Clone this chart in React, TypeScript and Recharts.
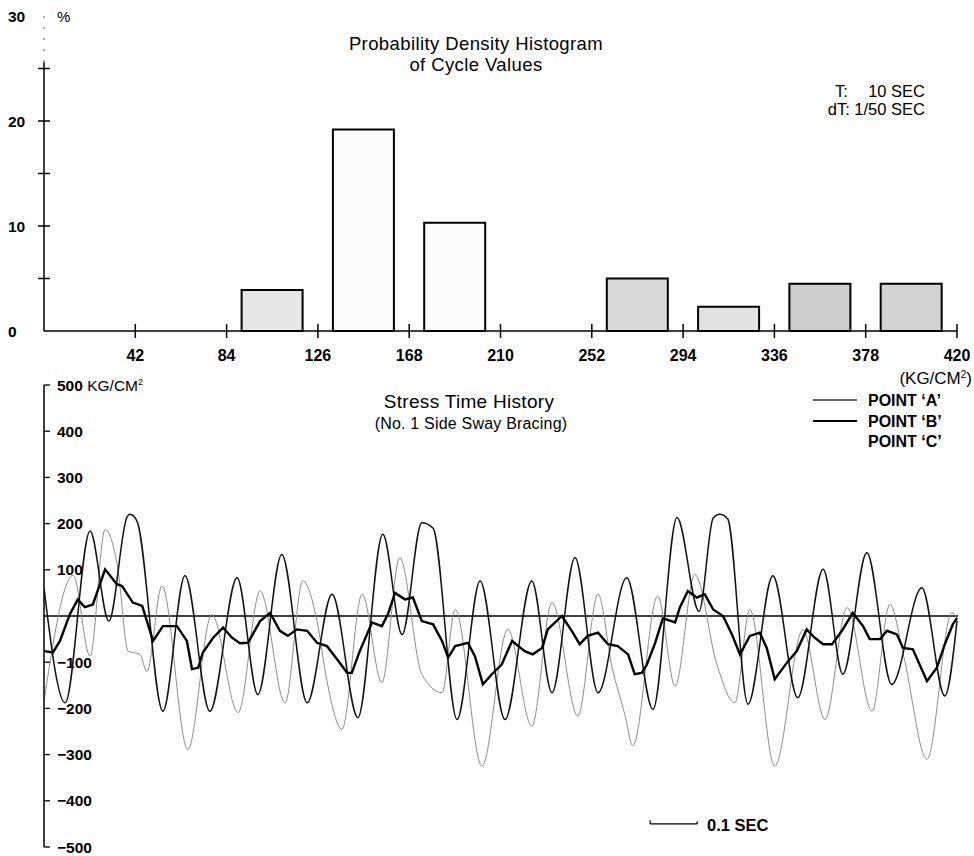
import React from 'react';
import {
  ComposedChart,
  Bar,
  Cell,
  XAxis,
  YAxis,
  ReferenceLine,
  LineChart,
  Line,
} from 'recharts';

const FONT = '"Liberation Sans", Arial, Helvetica, sans-serif';

// ---------- Histogram data ----------
const binCenters = [21, 63, 105, 147, 189, 231, 273, 315, 357, 399];
const cyclePercent = [null, null, 3.9, 19.2, 10.3, null, 5.0, 2.3, 4.5, 4.5];
const stressTicks = [42, 84, 126, 168, 210, 252, 294, 336, 378, 420];
const percentTicks = [0, 5, 10, 15, 20, 25, 30];
const binShades = ['#fff', '#fff', '#e6e6e6', '#fbfbfb', '#fcfcfc', '#fff', '#dadada', '#e2e2e2', '#cdcdcd', '#d2d2d2'];

// ---------- Stress time history (time in ms, stress in KG/CM2) ----------
const pointA: [number, number][] = [
  [0, -76], [19, -79], [34, -54], [55, 4], [72, 36], [87, 19], [104, 25], [130, 101], [155, 69], [166, 65],
  [189, 29], [209, 22], [232, -54], [253, -22], [283, -22], [304, -54], [315, -115], [328, -112], [338, -79],
  [360, -47], [381, -25], [400, -47], [417, -59], [434, -58], [460, -11], [481, 7], [502, -32], [519, -43],
  [538, -29], [560, -32], [581, -58], [602, -65], [626, -97], [645, -123], [655, -123], [672, -76], [698, -14],
  [719, -22], [732, 4], [747, 50], [768, 36], [785, 40], [804, -11], [828, -18], [847, -54], [860, -90],
  [875, -65], [902, -58], [917, -87], [934, -148], [953, -126], [974, -105], [996, -54], [1023, -76],
  [1040, -83], [1060, -69], [1072, -29], [1102, 0], [1123, -32], [1140, -61], [1157, -43], [1179, -36],
  [1200, -61], [1221, -65], [1243, -83], [1257, -126], [1272, -123], [1283, -105], [1300, -60], [1317, -5],
  [1332, -10], [1343, -14], [1353, 18], [1370, 54], [1389, 40], [1406, 47], [1424, 14], [1445, 0],
  [1464, -40], [1481, -83], [1502, -43], [1523, -36], [1538, -69], [1555, -137], [1581, -101], [1602, -76],
  [1623, -29], [1640, -47], [1658, -61], [1677, -61], [1698, -32], [1721, 7], [1743, -22], [1757, -50],
  [1779, -50], [1794, -32], [1815, -40], [1828, -69], [1849, -72], [1879, -141], [1900, -112], [1917, -61],
  [1934, -18], [1943, -4],
];

const pointB: [number, number][] = [
  [0, 60], [45, -188], [98, 184], [138, -11], [177, 215], [183, 220], [198, 205], [253, -206], [300, 87],
  [353, -206], [411, 83], [455, -170], [506, 133], [560, -188], [613, 47], [668, -220], [721, 177],
  [762, -40], [804, 202], [828, 190], [879, -224], [928, 76], [981, -224], [1038, 76], [1081, -166],
  [1130, 126], [1179, -166], [1240, 83], [1296, -202], [1347, 213], [1394, 10], [1424, 212], [1438, 220],
  [1455, 210], [1498, -191], [1551, 87], [1604, -177], [1658, 101], [1700, -126], [1751, 137], [1804, -148],
  [1868, 61], [1917, -173], [1943, -10],
];

const pointC: [number, number][] = [
  [0, -184], [62, 88], [98, -87], [130, 187], [157, 104], [179, -76], [204, -83], [219, -120], [251, 65],
  [306, -289], [357, 3], [413, -209], [460, 54], [513, -188], [551, 76], [581, -11], [602, -140], [634, -245],
  [677, 47], [719, -144], [757, 126], [804, -126], [847, -166], [875, 14], [932, -325], [987, -29],
  [1038, -238], [1081, 29], [1136, -216], [1179, 47], [1209, -112], [1236, -213], [1253, -281], [1306, 43],
  [1343, -152], [1385, 90], [1432, -105], [1470, -188], [1502, 14], [1555, -325], [1615, -30], [1662, -224],
  [1709, 18], [1762, -206], [1800, 25], [1830, -90], [1879, -310], [1932, 7], [1943, -5],
];

const stressAxisTicks = [-500, -400, -300, -200, -100, 100, 200, 300, 400, 500];
const timeScaleBar = { start: 1290, length: 100, level: -450 };

const histData = binCenters.map((c, i) => ({ c, pct: cyclePercent[i] }));
const toSeries = (arr: [number, number][]) => arr.map(([t, v]) => ({ t, v }));
const dataA = toSeries(pointA);
const dataB = toSeries(pointB);
const dataC = toSeries(pointC);

const HistXTick = (props: any) => {
  const { x, y, payload } = props;
  return (
    <g>
      <line x1={x} x2={x} y1={y - 7} y2={y + 7} stroke="#000" strokeWidth={1.5} />
      <text x={x} y={y + 29.5} textAnchor="middle" fontSize={16} fontWeight="bold" fontFamily={FONT} fill="#000">
        {payload.value}
      </text>
    </g>
  );
};

const HistYTick = (props: any) => {
  const { x, y, payload } = props;
  const v = payload.value;
  return (
    <g>
      {v !== 0 && v !== 30 && (
        <line x1={x - 6} x2={x + 6} y1={y} y2={y} stroke="#000" strokeWidth={1.5} />
      )}
      {v % 10 === 0 && (
        <text x={x - 36} y={y + 5.6} textAnchor="start" fontSize={15.5} fontWeight="bold" fontFamily={FONT} fill="#000">
          {v}
        </text>
      )}
    </g>
  );
};

const StressYTick = (props: any) => {
  const { x, y, payload } = props;
  const v = payload.value;
  const tx = x + 13;
  let label: React.ReactNode;
  if (v === 500) {
    label = (
      <text x={tx} y={y + 5.6} textAnchor="start" fontSize={15.5} fontFamily={FONT} fill="#000">
        <tspan fontWeight="bold">500</tspan>
        <tspan> KG/CM</tspan>
        <tspan fontSize={9} dy={-6}>2</tspan>
      </text>
    );
  } else {
    const s = v < 0 ? `\u2212${Math.abs(v)}` : `${v}`;
    label = (
      <text x={tx} y={y + 5.6} textAnchor="start" fontSize={15.5} fontWeight="bold" fontFamily={FONT} fill="#000">
        {s}
      </text>
    );
  }
  return (
    <g>
      <line x1={x} x2={x + 6} y1={y} y2={y} stroke="#000" strokeWidth={1.3} />
      {label}
    </g>
  );
};

export default function App() {
  return (
    <div
      style={{
        position: 'absolute',
        left: 0,
        top: 0,
        width: 974,
        height: 856,
        background: '#fff',
        fontFamily: FONT,
        overflow: 'hidden',
      }}
    >
      {/* Histogram */}
      <div style={{ position: 'absolute', left: 0, top: 0 }}>
        <ComposedChart width={974} height={372} data={histData} margin={{ top: 16, right: 17, bottom: 11, left: 0 }}>
          <XAxis
            dataKey="c"
            type="number"
            domain={[0, 420]}
            ticks={stressTicks}
            height={30}
            tickSize={0}
            tickMargin={0}
            tickLine={false}
            axisLine={{ stroke: '#000', strokeWidth: 1.5 }}
            tick={<HistXTick />}
            interval={0}
          />
          <YAxis
            type="number"
            domain={[0, 30]}
            ticks={percentTicks}
            width={44}
            tickSize={0}
            tickMargin={0}
            tickLine={false}
            axisLine={false}
            tick={<HistYTick />}
            interval={0}
          />
          <ReferenceLine segment={[{ x: 0, y: 0 }, { x: 0, y: 25.6 }]} stroke="#000" strokeWidth={1.5} />
          <ReferenceLine
            segment={[{ x: 0, y: 25.6 }, { x: 0, y: 30 }]}
            stroke="#555"
            strokeWidth={1}
            strokeDasharray="2 9"
          />
          <Bar dataKey="pct" barSize={61} stroke="#000" strokeWidth={2} isAnimationActive={false}>
            {histData.map((d, i) => (
              <Cell key={i} fill={binShades[i]} />
            ))}
          </Bar>
        </ComposedChart>
      </div>

      {/* Stress time history */}
      <div style={{ position: 'absolute', left: 0, top: 370 }}>
        <LineChart width={974} height={486} margin={{ top: 15, right: 16, bottom: 9, left: 0 }}>
          <XAxis dataKey="t" type="number" domain={[0, 1945]} hide allowDataOverflow />
          <YAxis
            type="number"
            domain={[-500, 500]}
            ticks={stressAxisTicks}
            width={44}
            tickSize={0}
            tickMargin={0}
            interval={0}
            axisLine={{ stroke: '#000', strokeWidth: 1.5 }}
            tickLine={false}
            tick={<StressYTick />}
          />
          <ReferenceLine y={0} stroke="#000" strokeWidth={1.6} />
          <ReferenceLine
            segment={[
              { x: timeScaleBar.start, y: timeScaleBar.level },
              { x: timeScaleBar.start + timeScaleBar.length, y: timeScaleBar.level },
            ]}
            stroke="#000"
            strokeWidth={1.2}
          />
          <ReferenceLine
            segment={[
              { x: timeScaleBar.start, y: timeScaleBar.level },
              { x: timeScaleBar.start, y: timeScaleBar.level + 8 },
            ]}
            stroke="#000"
            strokeWidth={1.2}
          />
          <ReferenceLine
            segment={[
              { x: timeScaleBar.start + timeScaleBar.length, y: timeScaleBar.level },
              { x: timeScaleBar.start + timeScaleBar.length, y: timeScaleBar.level + 6 },
            ]}
            stroke="#000"
            strokeWidth={1.2}
          />
          <Line data={dataC} dataKey="v" type="monotone" stroke="#8c8c8c" strokeWidth={1} dot={false} isAnimationActive={false} />
          <Line data={dataB} dataKey="v" type="monotone" stroke="#111" strokeWidth={1.5} dot={false} isAnimationActive={false} />
          <Line data={dataA} dataKey="v" type="linear" stroke="#000" strokeWidth={2.4} dot={false} isAnimationActive={false} />
        </LineChart>
      </div>

      {/* Text overlay */}
      <svg
        width={974}
        height={856}
        style={{ position: 'absolute', left: 0, top: 0, pointerEvents: 'none' }}
        fontFamily={FONT}
      >
        <text x={57} y={22} fontSize={15} fill="#000">%</text>
        <text x={476} y={50} fontSize={18.5} letterSpacing={0.4} textAnchor="middle" fill="#000">Probability Density Histogram</text>
        <text x={476} y={71} fontSize={18.5} letterSpacing={0.4} textAnchor="middle" fill="#000">of Cycle Values</text>
        <text x={835} y={97} fontSize={16.5} fill="#000">T:</text>
        <text x={925} y={97} fontSize={16.5} textAnchor="end" fill="#000">10 SEC</text>
        <text x={925} y={115} fontSize={16.5} textAnchor="end" fill="#000">dT: 1/50 SEC</text>
        <text x={972} y={384} fontSize={17} textAnchor="end" fill="#000">
          (KG/CM<tspan fontSize={10} dy={-6}>2</tspan><tspan dy={6}>)</tspan>
        </text>
        <text x={469} y={408} fontSize={19} letterSpacing={0.3} textAnchor="middle" fill="#000">Stress Time History</text>
        <text x={471} y={429} fontSize={16} letterSpacing={0.2} textAnchor="middle" fill="#000">(No. 1 Side Sway Bracing)</text>

        <line x1={813} x2={857} y1={400} y2={400} stroke="#333" strokeWidth={1.5} />
        <line x1={813} x2={857} y1={421} y2={421} stroke="#000" strokeWidth={2} />
        <text x={868} y={406} fontSize={16} fontWeight="bold" fill="#000">POINT ‘A’</text>
        <text x={868} y={427} fontSize={16} fontWeight="bold" fill="#000">POINT ‘B’</text>
        <text x={868} y={447} fontSize={16} fontWeight="bold" fill="#000">POINT ‘C’</text>

        <text x={707} y={831} fontSize={16.5} fontWeight="bold" fill="#000">0.1 SEC</text>
      </svg>
    </div>
  );
}
